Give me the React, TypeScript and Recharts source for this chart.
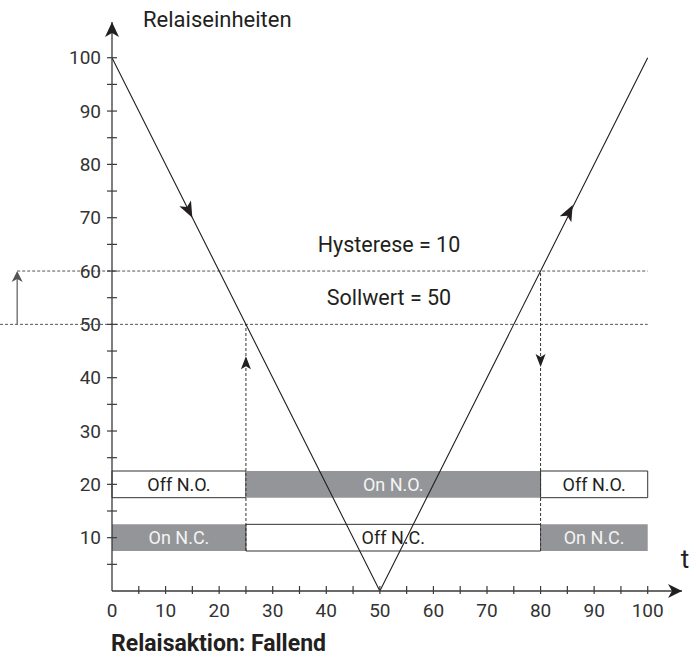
import {
  ComposedChart,
  Line,
  XAxis,
  YAxis,
  ReferenceLine,
  ReferenceArea,
  ReferenceDot,
} from "recharts";

// falling then rising relay units over time t
const timePoints = [0, 50, 100];
const relayUnits = [100, 0, 100];

const xTicks = [0, 5, 10, 15, 20, 25, 30, 35, 40, 45, 50, 55, 60, 65, 70, 75, 80, 85, 90, 95, 100];
const yTicks = [5, 10, 15, 20, 25, 30, 35, 40, 45, 50, 55, 60, 65, 70, 75, 80, 85, 90, 95, 100];

const setpoint = 50;
const hysteresisTop = 60;
const switchTimes = [25, 80]; // where the relay changes state

// relay state bands
const segmentEdges = [0, 25, 80, 100];
const noLabels = ["Off N.O.", "On N.O.", "Off N.O."];
const noActive = [false, true, false];
const ncLabels = ["On N.C.", "Off N.C.", "On N.C."];
const ncActive = [true, false, true];
const noLevel = 20;
const ncLevel = 10;
const bandHalf = 2.5;

// direction arrows sitting on the V line
const lineArrowX = [15, 86];
const lineArrowY = [70, 72.4];

const X_MAX = 106.4;
const Y_MAX = 106.7;
const LEFT_ARROW_X = -17.7;
const DOTTED_START_X = -20.9;

const FONT = "Roboto, 'Noto Sans', sans-serif";
const INK = "#231f20";
const GREY = "#939598";

const chartData = timePoints.map((t, i) => ({ t, units: relayUnits[i] }));

function arrowPath(len: number, half: number, notch: number) {
  return `M0,0 L${-len},${-half} L${-len + notch},0 L${-len},${half} Z`;
}

function Arrow(props: any) {
  const { cx, cy, angle = 0, len = 14, half = 6, notch = 4, color = INK } = props;
  if (cx == null || cy == null) return null;
  return (
    <path
      d={arrowPath(len, half, notch)}
      transform={`translate(${cx},${cy}) rotate(${angle})`}
      fill={color}
      stroke="none"
    />
  );
}

function TextMark(props: any) {
  const { cx, cy, text, dx = 0, dy = 0, size = 18, weight = 400, anchor = "middle", baseline } = props;
  if (cx == null || cy == null) return null;
  return (
    <text
      x={cx + dx}
      y={cy + dy}
      textAnchor={anchor}
      dominantBaseline={baseline}
      fontSize={size}
      fontWeight={weight}
      fontFamily={FONT}
      fill={INK}
      stroke="none"
    >
      {text}
    </text>
  );
}

function XTick(props: any) {
  const { x, y, payload } = props;
  const v = payload.value;
  return (
    <g>
      {v > 0 && <line x1={x} x2={x} y1={y - 5} y2={y + 3} stroke="#3a3a3a" strokeWidth={1.2} />}
      {v % 10 === 0 && (
        <text x={x} y={y + 26} textAnchor="middle" fontSize={19} fontFamily={FONT} fill="#333">
          {v}
        </text>
      )}
    </g>
  );
}

function YTick(props: any) {
  const { x, y, payload } = props;
  const v = payload.value;
  return (
    <g>
      <line x1={x - 5} x2={x + 5} y1={y} y2={y} stroke="#3a3a3a" strokeWidth={1.2} />
      {v % 10 === 0 && (
        <text x={x - 11} y={y} dy="0.35em" textAnchor="end" fontSize={19} fontFamily={FONT} fill="#333">
          {v}
        </text>
      )}
    </g>
  );
}

function bands(labels: string[], active: boolean[], level: number, keyPrefix: string) {
  return labels.map((label, i) => (
    <ReferenceArea
      key={keyPrefix + i}
      x1={segmentEdges[i]}
      x2={segmentEdges[i + 1]}
      y1={level - bandHalf}
      y2={level + bandHalf}
      fill={active[i] ? GREY : "#fff"}
      fillOpacity={1}
      stroke={active[i] ? "none" : "#333"}
      strokeWidth={1}
      ifOverflow="visible"
      label={{
        value: label,
        position: "center",
        fill: active[i] ? "#f4f4f4" : INK,
        fontSize: 18,
        fontFamily: FONT,
      }}
    />
  ));
}

export default function App() {
  return (
    <div style={{ position: "absolute", left: 0, top: 0, background: "#fff" }}>
      <ComposedChart
        width={696}
        height={659}
        data={chartData}
        margin={{ top: 22, right: 14, bottom: 67, left: 111 }}
      >
        <XAxis
          type="number"
          dataKey="t"
          domain={[0, X_MAX]}
          ticks={xTicks}
          allowDataOverflow
          height={1}
          tickSize={0}
          tickMargin={0}
          tickLine={false}
          axisLine={{ stroke: "#3a3a3a", strokeWidth: 1.3 }}
          tick={<XTick />}
          interval={0}
        />
        <YAxis
          type="number"
          domain={[0, Y_MAX]}
          ticks={yTicks}
          allowDataOverflow
          width={1}
          tickSize={0}
          tickMargin={0}
          tickLine={false}
          axisLine={{ stroke: "#3a3a3a", strokeWidth: 1.3 }}
          tick={<YTick />}
          interval={0}
        />

        {bands(noLabels, noActive, noLevel, "no")}
        {bands(ncLabels, ncActive, ncLevel, "nc")}

        <ReferenceLine
          segment={[{ x: LEFT_ARROW_X, y: hysteresisTop }, { x: 100, y: hysteresisTop }]}
          stroke="#555"
          strokeDasharray="3 2"
          ifOverflow="visible"
        />
        <ReferenceLine
          segment={[{ x: DOTTED_START_X, y: setpoint }, { x: 100, y: setpoint }]}
          stroke="#555"
          strokeDasharray="3 2"
          ifOverflow="visible"
        />
        <ReferenceLine
          segment={[{ x: switchTimes[0], y: ncLevel - bandHalf }, { x: switchTimes[0], y: setpoint }]}
          stroke="#333"
          strokeDasharray="3 2"
          ifOverflow="visible"
        />
        <ReferenceLine
          segment={[{ x: switchTimes[1], y: ncLevel - bandHalf }, { x: switchTimes[1], y: hysteresisTop }]}
          stroke="#333"
          strokeDasharray="3 2"
          ifOverflow="visible"
        />
        <ReferenceLine
          segment={[{ x: LEFT_ARROW_X, y: setpoint }, { x: LEFT_ARROW_X, y: hysteresisTop - 1.5 }]}
          stroke="#666"
          strokeWidth={1.3}
          ifOverflow="visible"
        />

        <Line
          type="linear"
          dataKey="units"
          stroke={INK}
          strokeWidth={1.1}
          dot={false}
          activeDot={false}
          isAnimationActive={false}
        />

        {/* arrowheads */}
        <ReferenceDot x={X_MAX} y={0} r={1} ifOverflow="visible" shape={(p: any) => <Arrow cx={p.cx} cy={p.cy} angle={0} len={14} half={7} />} />
        <ReferenceDot x={0} y={Y_MAX} r={1} ifOverflow="visible" shape={(p: any) => <Arrow cx={p.cx} cy={p.cy} angle={-90} len={15} half={7} />} />
        <ReferenceDot x={lineArrowX[0]} y={lineArrowY[0]} r={1} ifOverflow="visible" shape={(p: any) => <Arrow cx={p.cx} cy={p.cy} angle={63.3} len={16} half={6.5} />} />
        <ReferenceDot x={lineArrowX[1]} y={lineArrowY[1]} r={1} ifOverflow="visible" shape={(p: any) => <Arrow cx={p.cx} cy={p.cy} angle={-63.3} len={16} half={6.5} />} />
        <ReferenceDot x={switchTimes[0]} y={44} r={1} ifOverflow="visible" shape={(p: any) => <Arrow cx={p.cx} cy={p.cy} angle={-90} len={13} half={5} notch={3} />} />
        <ReferenceDot x={switchTimes[1]} y={42} r={1} ifOverflow="visible" shape={(p: any) => <Arrow cx={p.cx} cy={p.cy} angle={90} len={13} half={5} notch={3} />} />
        <ReferenceDot x={LEFT_ARROW_X} y={hysteresisTop} r={1} ifOverflow="visible" shape={(p: any) => <Arrow cx={p.cx} cy={p.cy} angle={-90} len={11} half={5.5} notch={3} color="#555" />} />

        {/* texts */}
        <ReferenceDot x={0} y={Y_MAX} r={1} ifOverflow="visible" shape={(p: any) => <TextMark cx={p.cx} cy={p.cy} text="Relaiseinheiten" anchor="start" dx={31} dy={5} size={22} />} />
        <ReferenceDot x={X_MAX} y={0} r={1} ifOverflow="visible" shape={(p: any) => <TextMark cx={p.cx} cy={p.cy} text="t" dx={3} dy={-23} size={26} />} />
        <ReferenceDot x={0} y={0} r={1} ifOverflow="visible" shape={(p: any) => <TextMark cx={p.cx} cy={p.cy} text="Relaisaktion: Fallend" anchor="start" dx={-1} dy={60} size={23} weight={700} />} />
        <ReferenceDot x={51.7} y={65} r={1} ifOverflow="visible" shape={(p: any) => <TextMark cx={p.cx} cy={p.cy} text="Hysterese = 10" baseline="central" size={21.5} />} />
        <ReferenceDot x={51.7} y={55} r={1} ifOverflow="visible" shape={(p: any) => <TextMark cx={p.cx} cy={p.cy} text="Sollwert = 50" baseline="central" size={21.5} />} />
      </ComposedChart>
    </div>
  );
}
